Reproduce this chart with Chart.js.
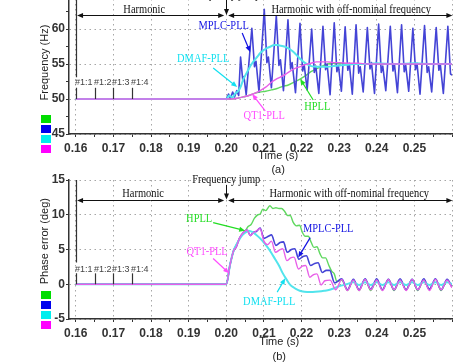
<!DOCTYPE html>
<html>
<head>
<meta charset="utf-8">
<script src="https://cdn.jsdelivr.net/npm/chart.js@4.4.1/dist/chart.umd.min.js"></script>
<style>
  html, body { margin: 0; padding: 0; background: #fff; overflow: hidden; }
  body { width: 474px; height: 364px; position: relative; }
  .panel { position: absolute; left: 0; }
  .panel canvas { display: block; }
  #freqWrap { top: -20px; }
  #phaseWrap { top: 170px; }
</style>
</head>
<body>
<div class="panel" id="freqWrap"><canvas id="freqChart" width="474" height="200"></canvas></div>
<div class="panel" id="phaseWrap"><canvas id="phaseChart" width="474" height="194"></canvas></div>
<script>
// ---- axis ticks ----
const xTicks = [0.16, 0.165, 0.17, 0.175, 0.18, 0.185, 0.19, 0.195, 0.2, 0.205, 0.21,
  0.215, 0.22, 0.225, 0.23, 0.235, 0.24, 0.245, 0.25, 0.255, 0.26];
const xTickLabels = ["0.16", "", "0.17", "", "0.18", "", "0.19", "", "0.20", "", "0.21",
  "", "0.22", "", "0.23", "", "0.24", "", "0.25", "", ""];
const freqTicks = [45, 47.5, 50, 52.5, 55, 57.5, 60, 62.5, 65];
const freqTickLabels = ["45", "", "50", "", "55", "", "60", "", ""];
const phaseTicks = [-5, -2.5, 0, 2.5, 5, 7.5, 10, 12.5, 15];
const phaseTickLabels = ["-5", "", "0", "", "5", "", "10", "", "15"];

// event markers
const markerTimes = [0.16, 0.165, 0.17, 0.175];
const markerLabels = ["#1:1", "#1:2", "#1:3", "#1:4"];

const seriesNames = ["HPLL", "MPLC-PLL", "DMAF-PLL", "QT1-PLL"];

// ---- (a) frequency, Hz ----
const hpllFreqT = [0.16, 0.2, 0.2015, 0.203, 0.2045, 0.206, 0.2075, 0.209, 0.2105, 0.212,
  0.2135, 0.215, 0.2165, 0.218, 0.2195, 0.221, 0.2225, 0.224, 0.2255, 0.227,
  0.2285, 0.23, 0.2325, 0.235, 0.24, 0.245, 0.25, 0.255, 0.26];
const hpllFreq = [50, 50, 50.0, 50.1, 50.3, 50.5, 50.8, 51.0, 51.1, 51.3,
  51.5, 51.8, 52.0, 52.4, 52.8, 53.3, 53.9, 54.3, 54.7, 55.0,
  55.1, 55.1, 55.0, 55.0, 55.0, 55.0, 55.0, 55.0, 55.0];

const mplcFreqT = [0.16, 0.2, 0.2006, 0.2011, 0.2017, 0.2022, 0.2028, 0.2033,
  0.2038, 0.2044, 0.2047, 0.2053,
  0.2068, 0.2075, 0.2079, 0.2087,
  0.2101, 0.2108, 0.2112, 0.212,
  0.2133, 0.214, 0.2144, 0.2152,
  0.2164, 0.2171, 0.2175, 0.2184,
  0.2196, 0.2203, 0.2207, 0.2215,
  0.2227, 0.2234, 0.2238, 0.2246,
  0.2257, 0.2264, 0.2268, 0.2276,
  0.2287, 0.2294, 0.2298, 0.2306,
  0.2316, 0.2323, 0.2327, 0.2335,
  0.2345, 0.2352, 0.2356, 0.2364,
  0.2375, 0.2382, 0.2386, 0.2394,
  0.2405, 0.2412, 0.2416, 0.2424,
  0.2436, 0.2443, 0.2447, 0.2455,
  0.2466, 0.2473, 0.2477, 0.2485,
  0.2496, 0.2503, 0.2507, 0.2515,
  0.2527, 0.2534, 0.2538, 0.2546,
  0.2558, 0.2565, 0.2569, 0.2577,
  0.2589, 0.2596, 0.26];
const mplcFreq = [50, 50, 50.7, 50.1, 51.0, 50.3, 51.2, 50.5,
  56.0, 52.6, 53.2, 50.6,
  60.1, 54.6, 55.4, 51.0,
  62.8, 55.2, 56.0, 51.6,
  61.9, 54.8, 55.6, 51.2,
  61.3, 54.3, 55.2, 50.9,
  60.8, 54.0, 54.9, 51.3,
  60.0, 53.8, 54.7, 50.8,
  60.4, 54.2, 55.0, 50.6,
  60.9, 53.9, 54.8, 51.1,
  60.3, 54.1, 55.1, 50.7,
  60.6, 53.7, 54.6, 51.0,
  60.2, 54.3, 55.2, 50.8,
  60.7, 53.8, 54.7, 51.2,
  60.4, 54.0, 55.0, 50.9,
  60.6, 53.9, 54.8, 51.1,
  60.1, 54.2, 55.1, 50.7,
  60.5, 53.8, 54.6, 51.0,
  60.2, 54.1, 54.9, 50.8,
  60.4, 53.6, 53.4];

const dmafFreqT = [0.16, 0.2, 0.2008, 0.2016, 0.2024, 0.2031, 0.2037, 0.2046, 0.2055, 0.2064,
  0.2073, 0.2082, 0.2091, 0.21, 0.2109, 0.2118, 0.2127, 0.2136, 0.2145, 0.2154,
  0.2163, 0.2172, 0.2181, 0.219, 0.2199, 0.2208, 0.2217, 0.2226, 0.224, 0.2255,
  0.227, 0.2285, 0.23, 0.232, 0.234, 0.237, 0.24, 0.245, 0.25, 0.255, 0.26];
const dmafFreq = [50, 50, 50.5, 50.2, 50.8, 51.1, 51.6, 52.9, 53.8, 54.7,
  55.4, 56.0, 56.6, 57.0, 57.3, 57.5, 57.7, 57.7, 57.6, 57.5,
  57.3, 57.0, 56.6, 56.1, 55.6, 55.2, 54.9, 54.7, 54.6, 54.6,
  54.6, 54.7, 54.8, 54.9, 55.0, 55.0, 55.1, 55.0, 55.1, 55.0, 55.0];

const qt1FreqT = [0.16, 0.2, 0.2015, 0.203, 0.2045, 0.206, 0.2075, 0.209, 0.2105, 0.212,
  0.2135, 0.215, 0.2165, 0.218, 0.2195, 0.221, 0.2225, 0.224, 0.2255, 0.227,
  0.2285, 0.23, 0.2325, 0.235, 0.2375, 0.24, 0.245, 0.25, 0.255, 0.26];
const qt1Freq = [50, 50, 50.0, 50.1, 50.3, 50.5, 50.8, 51.2, 51.7, 52.4,
  52.9, 53.3, 53.8, 54.3, 54.6, 54.9, 55.1, 55.3, 55.3, 55.3,
  55.2, 55.2, 55.1, 55.1, 55.0, 55.0, 55.0, 55.0, 55.0, 55.0];

// ---- (b) phase error, deg ----
const hpllPhaseT = [0.16, 0.2, 0.201, 0.202, 0.203, 0.204, 0.205, 0.2058, 0.2066, 0.2075,
  0.2084, 0.209, 0.2097, 0.2105, 0.2116, 0.2124, 0.2132, 0.214, 0.2147, 0.2155,
  0.2163, 0.217, 0.2178, 0.2186, 0.2195, 0.2202, 0.221, 0.2218, 0.2226, 0.2233,
  0.2241, 0.2249, 0.2256, 0.2264, 0.2272, 0.228, 0.2287, 0.2294, 0.2307, 0.2322,
  0.2338, 0.2353, 0.2369, 0.2384, 0.24, 0.2415, 0.2431, 0.2446, 0.2462, 0.2478,
  0.2494, 0.2509, 0.2525, 0.254, 0.2556, 0.2571, 0.2587, 0.26];
const hpllPhase = [0, 0, 2.8, 4.9, 6.0, 7.0, 7.6, 8.3, 8.6, 9.5,
  10.0, 10.1, 10.8, 10.6, 11.3, 10.9, 11.0, 10.9, 10.9, 10.5,
  9.9, 9.9, 8.9, 8.4, 8.5, 7.5, 6.9, 6.9, 6.0, 5.3,
  5.4, 4.4, 3.8, 3.8, 2.8, 1.9, 1.5, 0.4, 0.6, -0.9,
  0.6, -0.9, 0.7, -0.9, 0.6, -0.8, 0.7, -0.9, 0.6, -0.8,
  0.7, -0.9, 0.6, -0.8, 0.7, -0.9, 0.6, -0.3];

const mplcPhaseT = [0.16, 0.2, 0.201, 0.202, 0.2026, 0.2035, 0.2045, 0.2055, 0.2064, 0.2072,
  0.208, 0.209, 0.21, 0.2112, 0.212, 0.2132, 0.2143, 0.2152, 0.2162, 0.2173,
  0.2182, 0.2193, 0.2204, 0.2213, 0.2224, 0.2235, 0.2244, 0.2255, 0.2266, 0.2275,
  0.2288, 0.2307, 0.2322, 0.2338, 0.2353, 0.2369, 0.2384, 0.24, 0.2415, 0.2431,
  0.2446, 0.2462, 0.2478, 0.2494, 0.2509, 0.2525, 0.254, 0.2556, 0.2571, 0.2587, 0.26];
const mplcPhase = [0, 0, 2.8, 4.9, 5.3, 6.6, 7.4, 7.8, 7.0, 7.5,
  7.6, 8.1, 6.6, 6.9, 7.1, 5.6, 6.0, 6.1, 4.6, 5.0,
  5.1, 3.6, 4.0, 4.1, 2.7, 3.0, 3.1, 1.7, 2.0, 2.0,
  0.2, 0.8, -0.8, 0.7, -0.8, 0.8, -0.7, 0.8, -0.8, 0.7,
  -0.8, 0.8, -0.8, 0.7, -0.8, 0.8, -0.7, 0.8, -0.8, 0.7, -0.4];

const dmafPhaseT = [0.16, 0.2, 0.201, 0.202, 0.203, 0.204, 0.205, 0.206, 0.207, 0.208,
  0.209, 0.21, 0.211, 0.212, 0.213, 0.214, 0.215, 0.216, 0.217, 0.218,
  0.219, 0.22, 0.2215, 0.223, 0.2245, 0.226, 0.2275, 0.229, 0.2305, 0.232,
  0.2338, 0.2353, 0.2369, 0.2384, 0.24, 0.2415, 0.2431, 0.2446, 0.2462, 0.2478,
  0.2494, 0.2509, 0.2525, 0.254, 0.2556, 0.2571, 0.2587, 0.26];
const dmafPhase = [0, 0, 2.8, 4.9, 6.0, 6.9, 7.4, 7.7, 7.5, 7.1,
  6.6, 6.0, 5.3, 4.5, 3.6, 2.7, 1.6, 0.7, -0.1, -0.5,
  -0.8, -1.0, -1.1, -1.1, -1.05, -0.95, -0.8, -0.5, -0.2, 0.0,
  0.3, -0.1, 0.3, -0.1, 0.3, -0.1, 0.3, -0.1, 0.3, -0.1,
  0.3, -0.1, 0.3, -0.1, 0.3, -0.1, 0.3, 0.0];

const qt1PhaseT = [0.16, 0.2, 0.201, 0.202, 0.2026, 0.2035, 0.2045, 0.2055, 0.2064, 0.2072,
  0.208, 0.209, 0.21, 0.211, 0.212, 0.2131, 0.2141, 0.215, 0.2161, 0.2171,
  0.218, 0.2192, 0.2202, 0.2211, 0.2222, 0.2232, 0.2241, 0.2252, 0.2262, 0.2276,
  0.2291, 0.2307, 0.2322, 0.2338, 0.2353, 0.2369, 0.2384, 0.24, 0.2415, 0.2431,
  0.2446, 0.2462, 0.2478, 0.2494, 0.2509, 0.2525, 0.254, 0.2556, 0.2571, 0.2587, 0.26];
const qt1Phase = [0, 0, 2.8, 4.9, 5.3, 6.6, 7.4, 7.8, 7.0, 7.4,
  7.7, 8.0, 6.2, 5.7, 6.2, 4.6, 4.9, 5.1, 3.4, 3.8,
  3.9, 2.2, 2.6, 2.7, 1.0, 1.4, 1.5, -0.1, 0.5, 0.6,
  -0.8, 0.7, -0.9, 0.6, -0.9, 0.7, -0.8, 0.6, -0.9, 0.7,
  -0.8, 0.6, -0.9, 0.7, -0.8, 0.6, -0.9, 0.7, -0.8, 0.6, -0.5];

// ---- styling ----
const sans = '"Liberation Sans", Arial, sans-serif';
const serif = '"Liberation Serif", "Times New Roman", serif';
const lineColors = { hpll: "#5fd85f", mplc: "#4444d6", dmaf: "#52e4ec", qt1: "#e85fe8" };
const labelColors = { hpll: "#22dd22", mplc: "#1212e2", dmaf: "#12e0f0", qt1: "#ff4cff" };
const boxColors = { hpll: "#00dd00", mplc: "#0000ee", dmaf: "#00eeee", qt1: "#ff00ff" };
const inkColor = "#222";
const gridColor = "#a6a6a6";

const zip = (ts, vs) => ts.map((t, i) => ({ x: t, y: vs[i] }));
const isMajor = (v, step) => Math.abs(v / step - Math.round(v / step)) < 1e-6;

function drawArrow(ctx, x1, y1, x2, y2, size) {
  const a = Math.atan2(y2 - y1, x2 - x1);
  const c = Math.cos(a), s = Math.sin(a);
  ctx.beginPath();
  ctx.moveTo(x1, y1);
  ctx.lineTo(x2 - c * size * 0.7, y2 - s * size * 0.7);
  ctx.stroke();
  ctx.beginPath();
  ctx.moveTo(x2, y2);
  ctx.lineTo(x2 - size * c + size * 0.42 * s, y2 - size * s - size * 0.42 * c);
  ctx.lineTo(x2 - size * c - size * 0.42 * s, y2 - size * s + size * 0.42 * c);
  ctx.closePath();
  ctx.fill();
}

// condensed text, the figure's lettering is narrower than the stock fonts
function narrowText(ctx, text, x, y, squeeze) {
  const w = ctx.measureText(text).width;
  ctx.fillText(text, x, y, w * squeeze);
}

function notesPlugin(notes) {
  return {
    id: "figureNotes",
    afterDraw(chart) {
      const { ctx, chartArea: area } = chart;
      const xs = chart.scales.x, ys = chart.scales.y;
      const px = (t) => xs.getPixelForValue(t);
      const py = (v) => ys.getPixelForValue(v);
      ctx.save();

      // event markers #1:1 ... #1:4
      ctx.strokeStyle = "#333";
      ctx.lineWidth = 1.2;
      ctx.font = "9px " + sans;
      ctx.fillStyle = "#444";
      ctx.textAlign = "left";
      ctx.textBaseline = "middle";
      markerTimes.forEach((t, i) => {
        const x = Math.round(px(t)) + 0.5;
        ctx.beginPath();
        ctx.moveTo(x, py(notes.markers.tickTop));
        ctx.lineTo(x, py(notes.markers.base));
        if (i === 0) {
          ctx.moveTo(x, area.top);
          ctx.lineTo(x, py(notes.markers.gapTop));
        }
        ctx.stroke();
        narrowText(ctx, markerLabels[i], x - 1.5, py(notes.markers.labelV), 1);
      });

      // harmonic regions with double arrows
      ctx.strokeStyle = "#111";
      ctx.fillStyle = "#111";
      ctx.lineWidth = 1;
      const ay = Math.round(py(notes.regions.arrowV)) + 0.5;
      notes.regions.spans.forEach((sp) => {
        const mid = (px(sp.from) + px(sp.to)) / 2;
        drawArrow(ctx, mid, ay, px(sp.from), ay, 6);
        drawArrow(ctx, mid, ay, px(sp.to), ay, 6);
      });
      ctx.font = "12px " + serif;
      ctx.textAlign = "center";
      ctx.textBaseline = "middle";
      notes.regions.spans.forEach((sp) => {
        narrowText(ctx, sp.text, px(sp.at), py(notes.regions.textV), 0.87);
      });

      // frequency jump
      const jx = Math.round(px(notes.jump.t)) + 0.5;
      drawArrow(ctx, jx, py(notes.jump.arrowFrom), jx, py(notes.jump.arrowTo), 6);
      narrowText(ctx, "Frequency jump", px(notes.jump.t), py(notes.jump.labelV), 0.87);

      // curve labels with pointers
      notes.curves.forEach((c) => {
        ctx.fillStyle = labelColors[c.key];
        ctx.strokeStyle = labelColors[c.key];
        ctx.lineWidth = 1.2;
        narrowText(ctx, c.text, px(c.t), py(c.v), 0.87);
        drawArrow(ctx, px(c.from[0]), py(c.from[1]), px(c.to[0]), py(c.to[1]), 6);
      });

      // axis titles and caption
      ctx.fillStyle = inkColor;
      ctx.font = "11px " + sans;
      ctx.save();
      ctx.translate(45, py(notes.yTitle.v));
      ctx.rotate(-Math.PI / 2);
      ctx.fillText(notes.yTitle.text, 0, 0);
      ctx.restore();
      narrowText(ctx, "Time (s)", px(notes.xTitleT), area.bottom + notes.xTitleDy, 1);
      narrowText(ctx, notes.caption, px(notes.xTitleT), area.bottom + notes.captionDy, 1);

      // colour key squares
      let top = py(notes.keyTopV);
      chart.data.datasets.forEach((ds) => {
        ctx.fillStyle = boxColors[ds.key];
        ctx.fillRect(41, Math.round(top), 10, 8);
        top += 10;
      });
      ctx.restore();
    },
  };
}

function makeDatasets(parts) {
  const keys = ["hpll", "mplc", "dmaf", "qt1"];
  return parts.map((p, i) => ({
    key: keys[i],
    label: seriesNames[i],
    data: zip(p[0], p[1]),
    borderColor: lineColors[keys[i]],
    borderWidth: keys[i] === "dmaf" ? 2 : keys[i] === "mplc" ? 1.6 : 1.4,
    borderJoinStyle: "round",
    cubicInterpolationMode: p[2] ? "monotone" : "default",
    tension: p[2],
    pointRadius: 0,
    fill: false,
    order: 4 - i,
  }));
}

function makeChart(id, datasets, yCfg, notes, padTop, xHeight) {
  const tickFont = { family: sans, size: 12, weight: "bold" };
  return new Chart(document.getElementById(id), {
    type: "line",
    data: { datasets },
    options: {
      responsive: false,
      animation: false,
      events: [],
      layout: { padding: { top: padTop, right: 22, left: 0, bottom: 0 } },
      plugins: { legend: { display: false }, tooltip: { enabled: false } },
      scales: {
        x: {
          type: "linear",
          min: 0.1582,
          max: 0.26,
          afterBuildTicks: (s) => { s.ticks = xTicks.map((v) => ({ value: v })); },
          afterFit: (s) => { s.height = xHeight; },
          ticks: {
            autoSkip: false,
            maxRotation: 0,
            padding: 4,
            color: "#333",
            font: tickFont,
            callback: (v, i) => xTickLabels[i],
          },
          grid: {
            color: (c) => (c.tick && isMajor(c.tick.value, 0.01) ? gridColor : "rgba(0,0,0,0)"),
            tickColor: "#333",
            tickLength: 3,
          },
          border: { color: "#333", width: 1.5, dash: [1.5, 3.5] },
        },
        y: {
          min: yCfg.min,
          max: yCfg.max,
          afterBuildTicks: (s) => { s.ticks = yCfg.ticks.map((v) => ({ value: v })); },
          afterFit: (s) => { s.width = 69; },
          ticks: {
            padding: 1,
            color: "#333",
            font: tickFont,
            callback: (v, i) => yCfg.labels[i],
          },
          grid: {
            color: (c) => (c.tick && isMajor(c.tick.value, 5) ? gridColor : "rgba(0,0,0,0)"),
            tickColor: "#333",
            tickLength: 3,
          },
          border: { color: "#333", width: 1.5, dash: [1.5, 3.5] },
        },
      },
    },
    plugins: [notesPlugin(notes)],
  });
}

const freqNotes = {
  jump: { t: 0.2, labelV: 64.85, arrowFrom: 64.8, arrowTo: 62.0 },
  regions: {
    arrowV: 62.0,
    textV: 62.7,
    spans: [
      { from: 0.16035, to: 0.19945, text: "Harmonic", at: 0.1782 },
      { from: 0.2005, to: 0.2601, text: "Harmonic with off-nominal frequency", at: 0.2332 },
    ],
  },
  markers: { labelV: 52.4, tickTop: 51.6, base: 50, gapTop: 53.1 },
  curves: [
    { key: "mplc", text: "MPLC-PLL", t: 0.19931, v: 60.43, from: [0.20423, 59.43], to: [0.20636, 56.71] },
    { key: "dmaf", text: "DMAF-PLL", t: 0.19386, v: 55.71, from: [0.19652, 54.43], to: [0.2029, 51.71] },
    { key: "qt1", text: "QT1-PLL", t: 0.21008, v: 47.57, from: [0.21035, 48.29], to: [0.20689, 50.71] },
    { key: "hpll", text: "HPLL", t: 0.22418, v: 48.86, from: [0.22311, 49.86], to: [0.21965, 52.86] },
  ],
  yTitle: { text: "Frequency (Hz)", v: 55.2 },
  xTitleT: 0.2138,
  xTitleDy: 22,
  caption: "(a)",
  captionDy: 36,
  keyTopV: 47.71,
};

const phaseNotes = {
  jump: { t: 0.2, labelV: 15.0, arrowFrom: 14.3, arrowTo: 12.2 },
  regions: {
    arrowV: 12.14,
    textV: 13.07,
    spans: [
      { from: 0.16035, to: 0.19945, text: "Harmonic", at: 0.1779 },
      { from: 0.2005, to: 0.2601, text: "Harmonic with off-nominal frequency", at: 0.2327 },
    ],
  },
  markers: { labelV: 2.14, tickTop: 1.57, base: 0, gapTop: 3.14 },
  curves: [
    { key: "hpll", text: "HPLL", t: 0.19279, v: 9.36, from: [0.19652, 8.86], to: [0.20503, 7.71] },
    { key: "mplc", text: "MPLC-PLL", t: 0.2271, v: 8.0, from: [0.22231, 6.71], to: [0.21912, 3.86] },
    { key: "qt1", text: "QT1-PLL", t: 0.19492, v: 4.71, from: [0.19652, 3.71], to: [0.20077, 1.57] },
    { key: "dmaf", text: "DMAF-PLL", t: 0.21141, v: -2.57, from: [0.21354, -1.14], to: [0.21567, 0.86] },
  ],
  yTitle: { text: "Phase error (deg)", v: 6.2 },
  xTitleT: 0.2141,
  xTitleDy: 23,
  caption: "(b)",
  captionDy: 38,
  keyTopV: -1.0,
};

makeChart("freqChart",
  makeDatasets([
    [hpllFreqT, hpllFreq, 0.3],
    [mplcFreqT, mplcFreq, 0],
    [dmafFreqT, dmafFreq, 0.3],
    [qt1FreqT, qt1Freq, 0.3],
  ]),
  { min: 45, max: 65, ticks: freqTicks, labels: freqTickLabels },
  freqNotes, 14, 46);

makeChart("phaseChart",
  makeDatasets([
    [hpllPhaseT, hpllPhase, 0.15],
    [mplcPhaseT, mplcPhase, 0.15],
    [dmafPhaseT, dmafPhase, 0.35],
    [qt1PhaseT, qt1Phase, 0.15],
  ]),
  { min: -5, max: 15, ticks: phaseTicks, labels: phaseTickLabels },
  phaseNotes, 10, 45);
</script>
</body>
</html>
